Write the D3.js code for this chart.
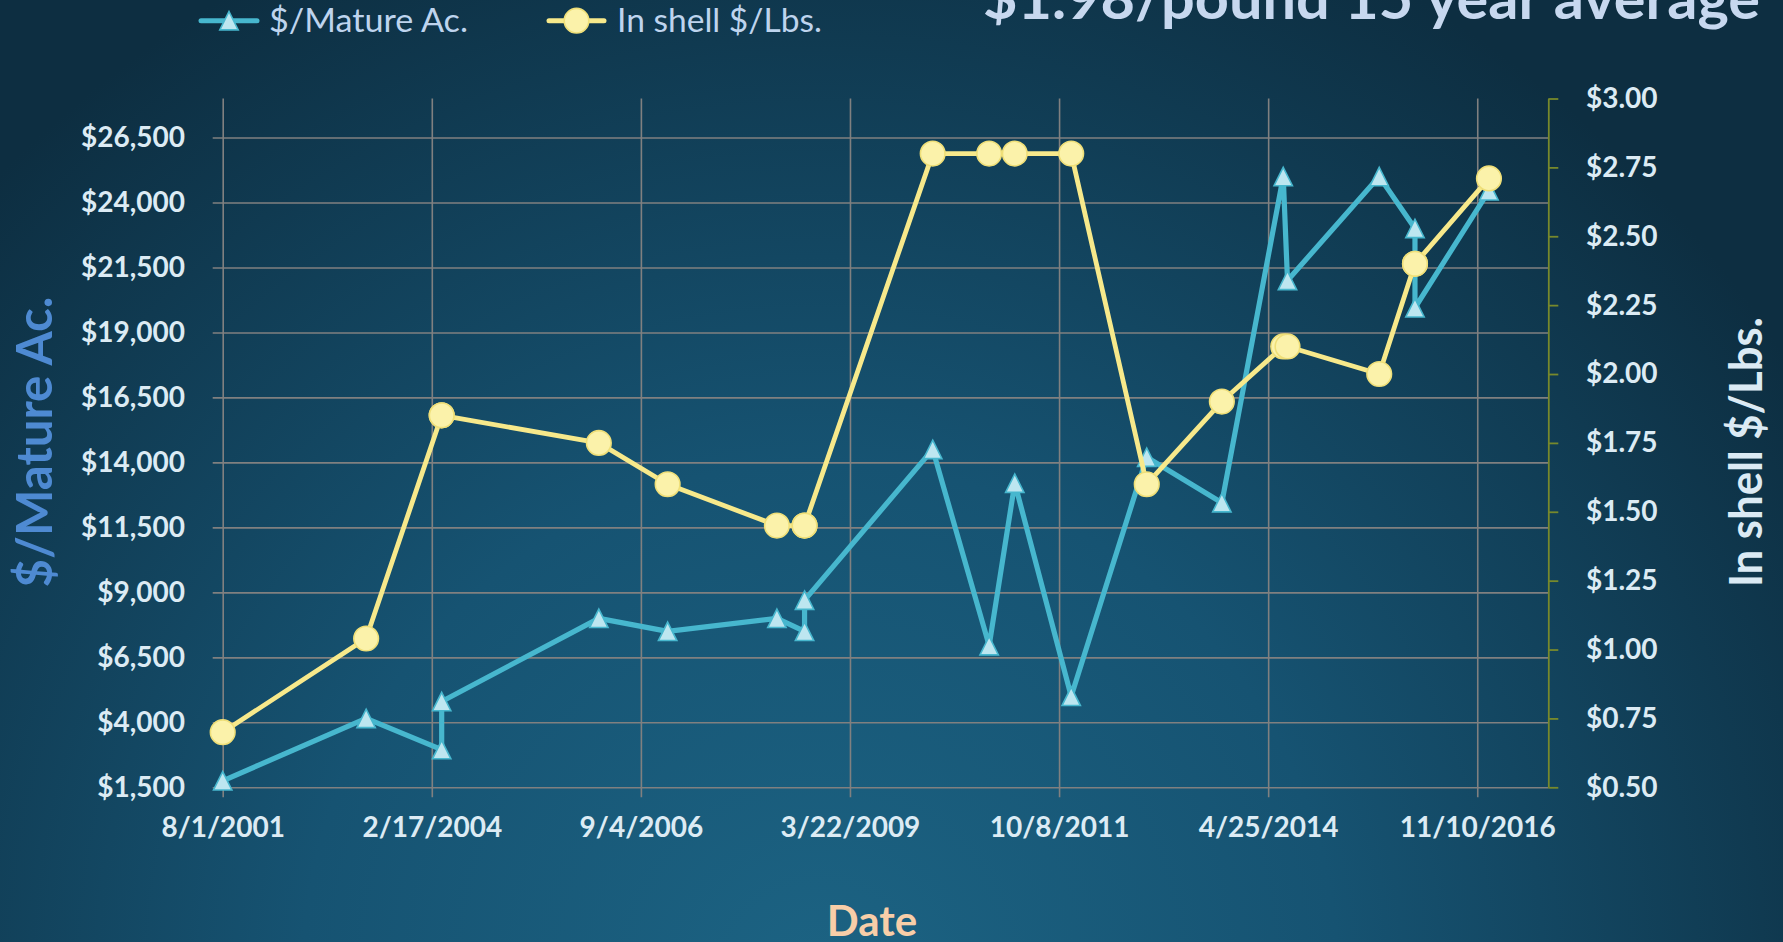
<!DOCTYPE html>
<html>
<head>
<meta charset="utf-8">
<script src="https://cdn.jsdelivr.net/npm/d3@7/dist/d3.min.js"></script>
<style>
  html, body { margin: 0; padding: 0; background: #0f3346; overflow: hidden; }
  svg { display: block; }
  text { font-family: Lato, "Open Sans", sans-serif; }
</style>
</head>
<body>
<svg id="chart" width="1783" height="942"></svg>
<script>
// ---------- data ----------
const dates = ["2001-08-01","2003-05-01","2004-04-01","2004-04-01","2006-03-01","2007-01-01",
  "2008-05-01","2008-09-01","2008-09-01","2010-03-25","2010-12-01","2011-03-25","2011-12-01",
  "2012-11-01","2013-10-01","2014-07-01","2014-07-20","2015-09-01","2016-02-07","2016-02-07","2017-01-01"];
const perMatureAcre = [1750, 4150, 2950, 4800, 8000, 7500, 8000, 7500, 8700, 14500, 6950, 13200, 5000,
  14200, 12450, 25000, 21000, 25000, 23000, 19950, 24450];
const inShellPerLb = [0.70, 1.04, 1.85, 1.85, 1.75, 1.60, 1.45, 1.45, 1.45, 2.80, 2.80, 2.80, 2.80,
  1.60, 1.90, 2.10, 2.10, 2.00, 2.40, 2.40, 2.71];
const xTickLabels = ["8/1/2001","2/17/2004","9/4/2006","3/22/2009","10/8/2011","4/25/2014","11/10/2016"];
const xAxisBounds = ["8/1/2001","9/22/2017"];
const leftTicks = [1500,4000,6500,9000,11500,14000,16500,19000,21500,24000,26500];
const leftBounds = [1500, 28000];
const rightTicks = [0.5,0.75,1.0,1.25,1.5,1.75,2.0,2.25,2.5,2.75,3.0];
const rightBounds = [0.5, 3.0];
const seriesNames = ["$/Mature Ac.", "In shell $/Lbs."];
const titleText = "$1.98/pound 15 year average";

// ---------- setup ----------
const W = 1783, H = 942;
const svg = d3.select("#chart");
const parseISO = d3.utcParse("%Y-%m-%d");
const parseUS = d3.utcParse("%m/%d/%Y");

const defs = svg.append("defs");
const grad = defs.append("radialGradient").attr("id","bg")
  .attr("gradientUnits","userSpaceOnUse").attr("cx",820).attr("cy",980).attr("r",1150);
grad.append("stop").attr("offset","0").attr("stop-color","#1c6383");
grad.append("stop").attr("offset","0.45").attr("stop-color","#165372");
grad.append("stop").attr("offset","1").attr("stop-color","#0d2e41");
svg.append("rect").attr("width",W).attr("height",H).attr("fill","url(#bg)");

const plot = {left: 222.7, right: 1548.3, top: 98.5, bottom: 787.3};

const x = d3.scaleUtc().domain(xAxisBounds.map(parseUS)).range([plot.left, plot.right]);
const yL = d3.scaleLinear().domain(leftBounds).range([plot.bottom, plot.top]);
const yR = d3.scaleLinear().domain(rightBounds).range([plot.bottom, plot.top]);

const gridColor = "#808080";
const labelColor = "#dcebf4";

// left axis with horizontal gridlines
const gL = svg.append("g").attr("transform",`translate(${plot.left - 10},0)`)
  .call(d3.axisLeft(yL).tickValues(leftTicks).tickFormat(d3.format("$,"))
    .tickSizeInner(-(plot.right - plot.left + 10)).tickSizeOuter(0).tickPadding(27.7));
gL.select(".domain").remove();
gL.selectAll(".tick line").attr("stroke",gridColor).attr("stroke-width",1.6);
gL.selectAll(".tick text").attr("fill",labelColor).attr("font-size",28).attr("font-weight",700)
  .attr("font-family","Lato");

// bottom axis with vertical gridlines
const xTicks = xTickLabels.map(parseUS);
const gB = svg.append("g").attr("transform",`translate(0,${plot.bottom + 10})`)
  .call(d3.axisBottom(x).tickValues(xTicks).tickFormat((d,i) => xTickLabels[i])
    .tickSizeInner(-(plot.bottom - plot.top + 10)).tickSizeOuter(0).tickPadding(20));
gB.select(".domain").remove();
gB.selectAll(".tick line").attr("stroke",gridColor).attr("stroke-width",1.6);
gB.selectAll(".tick text").attr("fill",labelColor).attr("font-size",28).attr("font-weight",700)
  .attr("font-family","Lato");

// right axis
const gR = svg.append("g").attr("transform",`translate(${plot.right},0)`)
  .call(d3.axisRight(yR).tickValues(rightTicks).tickFormat(d3.format("$.2f"))
    .tickSizeInner(10).tickSizeOuter(0).tickPadding(27.7));
gR.select(".domain").attr("stroke","#77892c").attr("stroke-width",1.8);
gR.selectAll(".tick line").attr("stroke","#77892c").attr("stroke-width",1.8);
gR.selectAll(".tick text").attr("fill",labelColor).attr("font-size",28).attr("font-weight",700)
  .attr("font-family","Lato");

// ---------- series ----------
const rows = dates.map((d,i) => ({date: parseISO(d), acre: perMatureAcre[i], lb: inShellPerLb[i]}));

const blue = "#47b7ce", blueFill = "#bde6f0";
const yellow = "#f7e98b", yellowFill = "#fbf2aa", yellowStroke = "#efdf78";
const tri = "M0,-9.2L9.2,9.2L-9.2,9.2Z";

svg.append("path").datum(rows)
  .attr("fill","none").attr("stroke",blue).attr("stroke-width",5.2).attr("stroke-linejoin","round")
  .attr("d", d3.line().x(d => x(d.date)).y(d => yL(d.acre)));
svg.append("g").selectAll("path").data(rows).join("path")
  .attr("transform", d => `translate(${x(d.date)},${yL(d.acre)})`)
  .attr("d", tri).attr("fill",blueFill).attr("stroke",blue).attr("stroke-width",1.6);

svg.append("path").datum(rows)
  .attr("fill","none").attr("stroke",yellow).attr("stroke-width",4.8).attr("stroke-linejoin","round")
  .attr("d", d3.line().x(d => x(d.date)).y(d => yR(d.lb)));
svg.append("g").selectAll("circle").data(rows).join("circle")
  .attr("cx", d => x(d.date)).attr("cy", d => yR(d.lb)).attr("r",12.3)
  .attr("fill",yellowFill).attr("stroke",yellowStroke).attr("stroke-width",1.6);

// ---------- titles ----------
svg.append("text").attr("x",983).attr("y",19).attr("font-size",58).attr("font-weight",700)
  .attr("fill","#c7d8ef").attr("textLength",777).attr("lengthAdjust","spacingAndGlyphs")
  .text(titleText);

svg.append("text").attr("transform","translate(52,442) rotate(-90)").attr("text-anchor","middle")
  .attr("font-size",49).attr("font-weight",700).attr("fill","#4e8ad2")
  .attr("textLength",291).attr("lengthAdjust","spacingAndGlyphs").text(seriesNames[0]);

svg.append("text").attr("transform","translate(1762,452) rotate(-90)").attr("text-anchor","middle")
  .attr("font-size",45).attr("font-weight",700).attr("fill","#dbeaf4")
  .attr("textLength",270).attr("lengthAdjust","spacingAndGlyphs").text(seriesNames[1]);

svg.append("text").attr("x",872).attr("y",936).attr("text-anchor","middle")
  .attr("font-size",42).attr("font-weight",700).attr("fill","#f8cea8").text("Date");

// ---------- legend ----------
const legend = svg.append("g");
const legendItems = [
  {name: seriesNames[0], x0: 201, x1: 257, tx: 269, tl: 199, type: "tri"},
  {name: seriesNames[1], x0: 549, x1: 604, tx: 617, tl: 205, type: "circ"}
];
legendItems.forEach(it => {
  const cy = 20.7, cx = (it.x0 + it.x1) / 2;
  legend.append("line").attr("x1",it.x0).attr("x2",it.x1).attr("y1",cy).attr("y2",cy)
    .attr("stroke", it.type === "tri" ? blue : yellow).attr("stroke-width",5).attr("stroke-linecap","round");
  if (it.type === "tri") {
    legend.append("path").attr("transform",`translate(${cx},${cy})`).attr("d",tri)
      .attr("fill",blueFill).attr("stroke",blue).attr("stroke-width",1.6);
  } else {
    legend.append("circle").attr("cx",cx).attr("cy",cy).attr("r",12.3)
      .attr("fill",yellowFill).attr("stroke",yellowStroke).attr("stroke-width",1.6);
  }
  legend.append("text").attr("x",it.tx).attr("y",32).attr("font-size",33).attr("fill","#bed4ee")
    .attr("textLength",it.tl).attr("lengthAdjust","spacingAndGlyphs").text(it.name);
});
</script>
</body>
</html>
